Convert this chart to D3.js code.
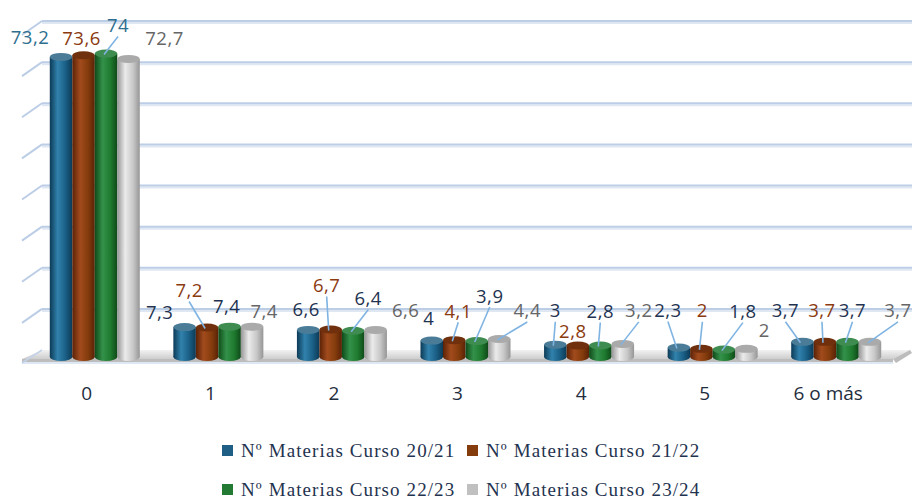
<!DOCTYPE html>
<html>
<head>
<meta charset="utf-8">
<script src="https://cdn.jsdelivr.net/npm/d3@7"></script>
<style>
  html, body { margin: 0; padding: 0; background: #fff; }
  svg { display: block; }
  .val { font-family: "Open Sans", sans-serif; font-size: 18.5px; letter-spacing: 0.5px; }
  .cat { font-family: "Open Sans", sans-serif; font-size: 19px; fill: #1f2d3d; }
  .leg { font-family: "Liberation Serif", serif; font-size: 19px; fill: #1f3350; letter-spacing: 1.1px; }
</style>
</head>
<body>
<svg width="912" height="500"></svg>
<script>
// chart data
var categories = ["0", "1", "2", "3", "4", "5", "6 o más"];
var seriesNames = ["Nº Materias Curso 20/21", "Nº Materias Curso 21/22", "Nº Materias Curso 22/23", "Nº Materias Curso 23/24"];
var curso2021 = [73.2, 7.3, 6.6, 4, 3, 2.3, 3.7];
var curso2122 = [73.6, 7.2, 6.7, 4.1, 2.8, 2, 3.7];
var curso2223 = [74, 7.4, 6.4, 3.9, 2.8, 1.8, 3.7];
var curso2324 = [72.7, 7.4, 6.6, 4.4, 3.2, 2, 3.7];
var yTicks = [0, 10, 20, 30, 40, 50, 60, 70, 80];
var series = [curso2021, curso2122, curso2223, curso2324];

// label placement (relative to bar top), as in the original chart
var labelOffsets = [
  [[-31, -20], [-25, -16], [-2, -21], [-3, -23], [0, -35], [-11, -38], [-17, -32]],
  [[-2, -18], [-18, -38], [-4, -45], [4, -30], [-5, -15], [1, -39], [-3, -32]],
  [[12, -29], [-3, -21], [15, -33], [13, -46], [0, -35], [19, -39], [5, -32]],
  [[36, -21], [12, -16], [30, -20], [28, -29], [16, -34], [18, -19], [28, -32]]
];
var leaders = [
  [0, 0, 0, 0, 1, 1, 1],
  [0, 1, 1, 1, 0, 1, 1],
  [1, 0, 1, 1, 1, 1, 1],
  [0, 0, 0, 1, 1, 0, 1]
];

var base = ["#1a5f86", "#843c0c", "#1e7a2e", "#c8c8c8"];
var edge = ["#0c3a56", "#5a2207", "#0f4a19", "#969696"];
var light = ["#3182ad", "#a24b1d", "#33914a", "#ebebeb"];
var topCol = ["#4a7c98", "#70300d", "#3f8c50", "#aaaaaa"];
var labelCol = ["#1f3350", "#8b3a0f", "#1f3350", "#666666"];
var labelColFirst = ["#2e6e8e", "#8b3a0f", "#2e6e8e", "#666666"];
var legendCol = ["#1f5f86", "#843c0c", "#237a32", "#c0c0c0"];

var svg = d3.select("svg");
var defs = svg.append("defs");

base.forEach(function (c, i) {
  var g = defs.append("linearGradient").attr("id", "cyl" + i)
    .attr("x1", "0%").attr("x2", "100%").attr("y1", "0%").attr("y2", "0%");
  g.append("stop").attr("offset", "0%").attr("stop-color", edge[i]);
  g.append("stop").attr("offset", "35%").attr("stop-color", light[i]);
  g.append("stop").attr("offset", "70%").attr("stop-color", base[i]);
  g.append("stop").attr("offset", "100%").attr("stop-color", edge[i]);
});
var fg = defs.append("linearGradient").attr("id", "floor")
  .attr("x1", "0").attr("x2", "0").attr("y1", "0").attr("y2", "1");
fg.append("stop").attr("offset", "0%").attr("stop-color", "#f2f2f2");
fg.append("stop").attr("offset", "100%").attr("stop-color", "#cdcdcd");

// scales
var x = d3.scaleBand().domain(categories).range([33, 898])
  .paddingInner(0.2717).paddingOuter(0.1358);
var xs = d3.scaleBand().domain(d3.range(series.length)).range([0, x.bandwidth()]);
var yFront = d3.scaleLinear().domain([0, 80]).range([357, 29]);
var yBack = d3.scaleLinear().domain([0, 80]).range([350, 21]);

var wallLeft = 42, wallRight = 912, depthX = 20, depthY = 14;

// back wall grid
var grid = svg.append("g");
yTicks.slice(1).forEach(function (t) {
  var yb = yBack(t);
  grid.append("line").attr("x1", wallLeft).attr("x2", wallRight)
    .attr("y1", yb + 2).attr("y2", yb + 2)
    .attr("stroke", "#dfe7f3").attr("stroke-width", 2);
  grid.append("line").attr("x1", wallLeft).attr("x2", wallRight)
    .attr("y1", yb).attr("y2", yb)
    .attr("stroke", "#bccde6").attr("stroke-width", 2);
  grid.append("line").attr("x1", wallLeft).attr("y1", yb)
    .attr("x2", wallLeft - depthX).attr("y2", yb + depthY)
    .attr("stroke", "#bccde6").attr("stroke-width", 2);
});

// floor
var fb = yBack(0), ff = 359;
svg.append("polygon")
  .attr("points", [[wallLeft, fb], [wallRight - 2, fb], [wallRight - 19, ff], [wallLeft - depthX, ff]].join(" "))
  .attr("fill", "url(#floor)");
svg.append("polygon")
  .attr("points", [[wallLeft - depthX, ff], [wallRight - 19, ff], [wallRight - 19, ff + 3], [wallLeft - depthX, ff + 3]].join(" "))
  .attr("fill", "#bdbdbd");
svg.append("polygon")
  .attr("points", [[wallRight - 19, ff], [wallRight - 2, fb], [wallRight, fb + 3], [wallRight - 16, ff + 4]].join(" "))
  .attr("fill", "#9f9f9f").attr("opacity", 0.7);
svg.append("line").attr("x1", wallLeft - depthX).attr("x2", wallRight - 19)
  .attr("y1", ff + 4).attr("y2", ff + 4).attr("stroke", "#d3dff0").attr("stroke-width", 1.5);
svg.append("line").attr("x1", wallLeft).attr("y1", fb)
  .attr("x2", wallLeft - depthX).attr("y2", ff + 4)
  .attr("stroke", "#c3d2e8").attr("stroke-width", 1.5);

// cylinders
var bars = svg.append("g");
var rx = xs.bandwidth() / 2, ry = 4;
series.forEach(function (vals, s) {
  vals.forEach(function (v, c) {
    var cx = x(categories[c]) + xs(s) + rx;
    var yt = yFront(v), y0 = yFront(0);
    bars.append("ellipse").attr("cx", cx).attr("cy", y0).attr("rx", rx).attr("ry", ry)
      .attr("fill", "url(#cyl" + s + ")");
    bars.append("rect").attr("x", cx - rx).attr("y", yt).attr("width", rx * 2).attr("height", y0 - yt)
      .attr("fill", "url(#cyl" + s + ")");
    bars.append("ellipse").attr("cx", cx).attr("cy", yt).attr("rx", rx).attr("ry", ry)
      .attr("fill", topCol[s]);
  });
});

// data labels
var labels = svg.append("g");
series.forEach(function (vals, s) {
  vals.forEach(function (v, c) {
    var cx = x(categories[c]) + xs(s) + rx;
    var yt = yFront(v);
    var lx = cx + labelOffsets[s][c][0], ly = yt + labelOffsets[s][c][1];
    if (leaders[s][c]) {
      labels.append("line").attr("x1", lx).attr("y1", ly + 12)
        .attr("x2", cx - 2).attr("y2", yt + 1)
        .attr("stroke", "#7fb4e2").attr("stroke-width", 1.6);
    }
    labels.append("text").attr("class", "val")
      .attr("x", lx).attr("y", ly)
      .attr("text-anchor", "middle").attr("dominant-baseline", "central")
      .attr("fill", c === 0 ? labelColFirst[s] : labelCol[s])
      .text(String(v).replace(".", ","));
  });
});

// category axis
svg.append("g").selectAll("text").data(categories).enter().append("text")
  .attr("class", "cat")
  .attr("x", function (d) { return x(d) + x.bandwidth() / 2 - 8; })
  .attr("y", 393)
  .attr("text-anchor", "middle").attr("dominant-baseline", "central")
  .text(function (d) { return d; });

// legend
var legX = [222, 467], legY = [450, 489];
var leg = svg.append("g");
seriesNames.forEach(function (n, i) {
  var lx = legX[i % 2], ly = legY[Math.floor(i / 2)];
  leg.append("rect").attr("x", lx).attr("y", ly - 5).attr("width", 11).attr("height", 11)
    .attr("fill", legendCol[i]);
  leg.append("text").attr("class", "leg").attr("x", lx + 19).attr("y", ly)
    .attr("dominant-baseline", "central").text(n);
});
</script>
</body>
</html>
